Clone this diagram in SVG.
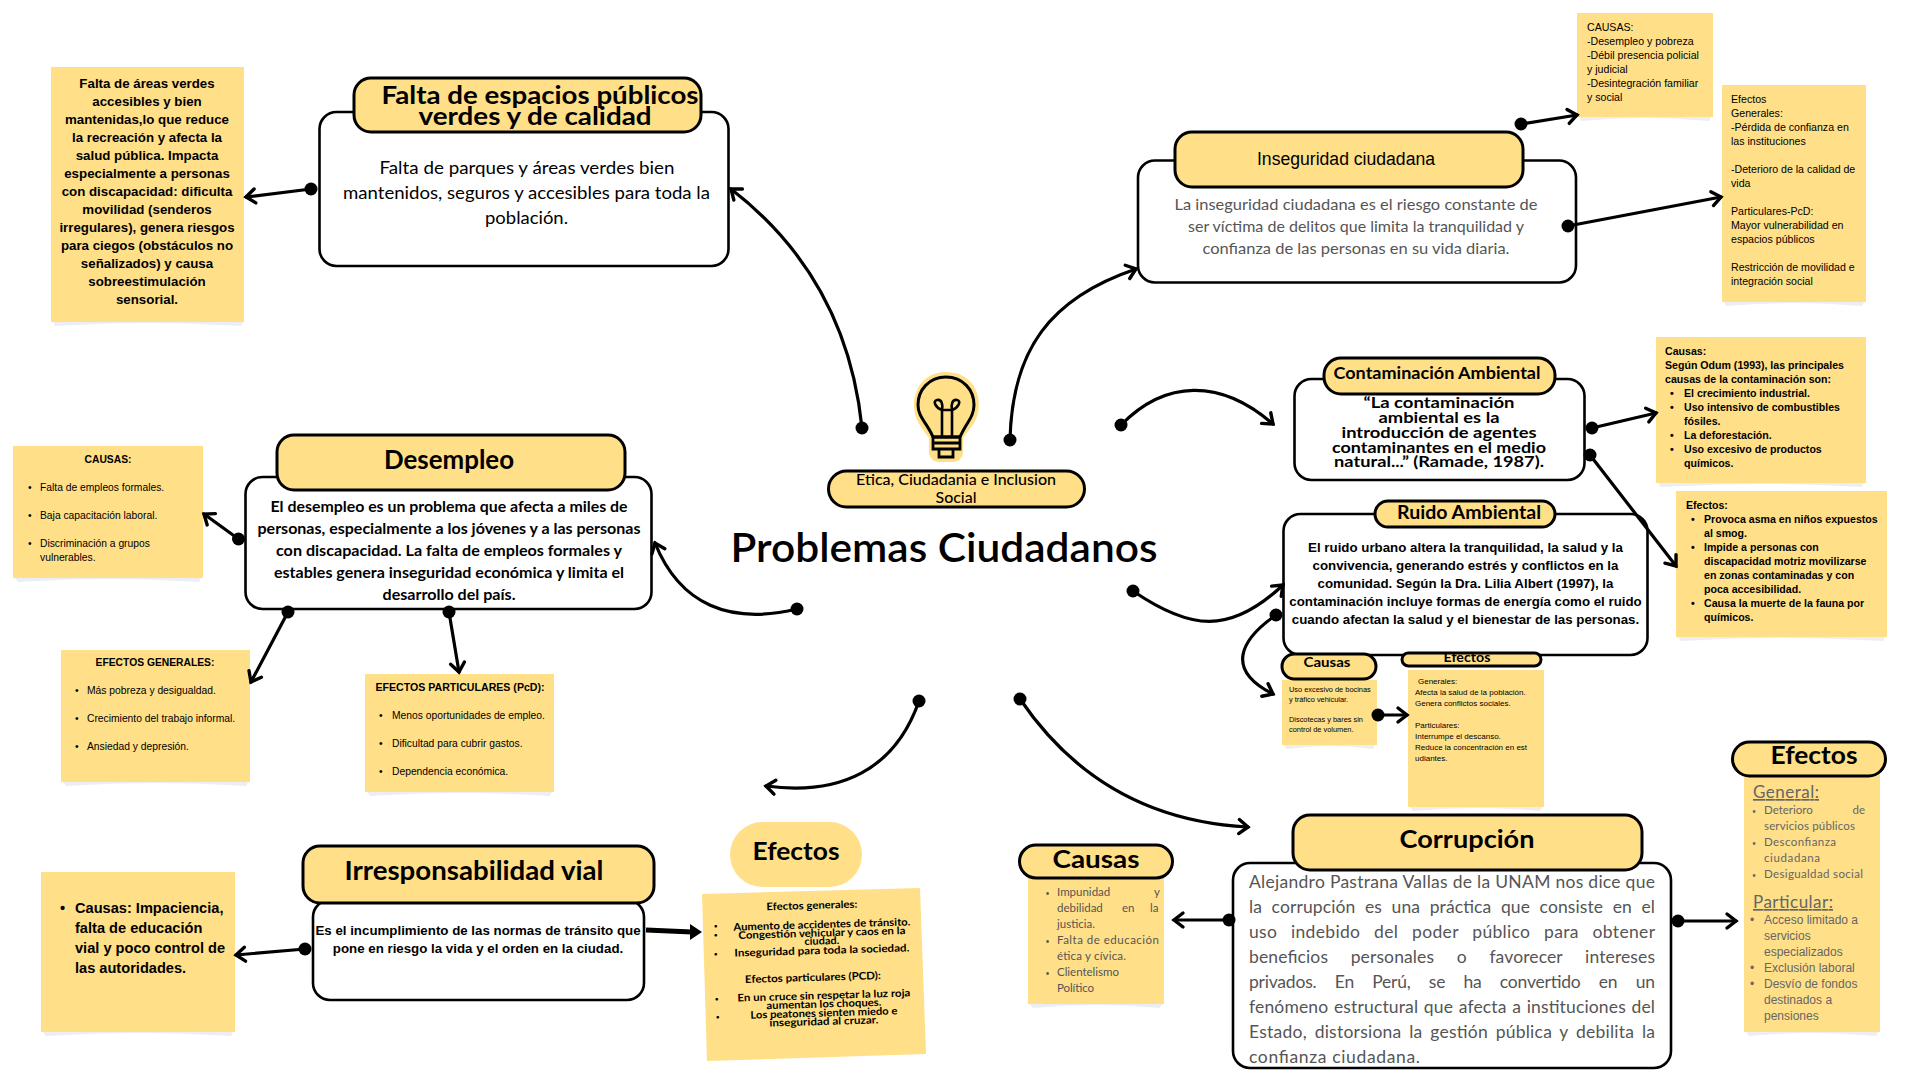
<svg xmlns="http://www.w3.org/2000/svg" width="1920" height="1080" viewBox="0 0 1920 1080">
<style>
.bg{fill:#fff}
.note{fill:#FFDF88}
.sh{fill:#ECEEF1}
.head{fill:#FFDF88;stroke:#000;stroke-width:3}
.box{fill:#fff;stroke:#000;stroke-width:2.6}
text{fill:#000;font-family:"Liberation Sans",Arial,sans-serif}
.q{font-family:Lato,"Noto Sans",sans-serif}
.qb{font-family:Lato,"Noto Sans",sans-serif;font-weight:700}
.m{text-anchor:middle}
.b{font-weight:700}
.g{fill:#555}
.g2{fill:#666}
.s11{font-size:10.6px}
.s10{font-size:10.3px}
.s8{font-size:8px}
.s7{font-size:7.4px}
.u{text-decoration:underline}
.c{fill:none;stroke:#000;stroke-width:3.2;stroke-linecap:round;marker-start:url(#dot);marker-end:url(#arr)}
</style>
<defs>
<marker id="arr" markerUnits="userSpaceOnUse" markerWidth="26" markerHeight="26" refX="13" refY="13" orient="auto"><path d="M4,6 L13,13 L4,20" fill="none" stroke="#000" stroke-width="3.4" stroke-linecap="round" stroke-linejoin="miter"/></marker>
<marker id="dot" markerUnits="userSpaceOnUse" markerWidth="16" markerHeight="16" refX="8" refY="8"><circle cx="8" cy="8" r="6.5" fill="#000"/></marker>
</defs>
<rect class="bg" width="1920" height="1080"/>

<g id="centro">
<path d="M946,372 C968,372 979,388 979,405 C979,420 970,428 963,438 L963,452 C963,458 958,462 953,462 L939,462 C934,462 929,458 929,452 L929,438 C922,428 914,420 914,405 C914,388 925,372 946,372Z" fill="#FFDF88"/>
<path d="M946,377 C963,377 974,390 974,405 C974,417 966,423 960,437 L933,437 C927,423 918,417 918,405 C918,390 929,377 946,377Z" fill="#FFDF88" stroke="#000" stroke-width="3"/>
<path d="M942,437 V410 H952 V437 M942,410 C936,408 932,401 937,400 C942,399 943,405 942,410 M952,410 C958,408 962,401 957,400 C952,399 951,405 952,410" fill="none" stroke="#000" stroke-width="2.6"/>
<path d="M933,437 H960 V449 H933Z M933,443 H960 M939,449 V457 H953 V449" fill="none" stroke="#000" stroke-width="2.8"/>
<rect class="head" x="828.5" y="471" width="256" height="36" rx="18"/>
<text class="q m" font-size="14.5" font-weight="500" x="956" y="484.5" textLength="200" lengthAdjust="spacingAndGlyphs">Etica, Ciudadania e Inclusion</text>
<text class="q m" font-size="14.5" font-weight="500" x="956" y="502.5" textLength="41" lengthAdjust="spacingAndGlyphs">Social</text>
<text class="q m" font-size="40" font-weight="600" x="944" y="561.5" textLength="427" lengthAdjust="spacingAndGlyphs">Problemas Ciudadanos</text>
</g>

<g id="falta">
<path class="sh" d="M53,322 L55,326 Q147,320 241,326 L243,322Z"/>
<rect class="note" x="51" y="67" width="193" height="255"/>
<text class="b m" font-size="13.3" x="147" y="88">Falta de áreas verdes</text>
<text class="b m" font-size="13.3" x="147" y="106">accesibles y bien</text>
<text class="b m" font-size="13.3" x="147" y="124">mantenidas,lo que reduce</text>
<text class="b m" font-size="13.3" x="147" y="142">la recreación y afecta la</text>
<text class="b m" font-size="13.3" x="147" y="160">salud pública. Impacta</text>
<text class="b m" font-size="13.3" x="147" y="178">especialmente a personas</text>
<text class="b m" font-size="13.3" x="147" y="196">con discapacidad: dificulta</text>
<text class="b m" font-size="13.3" x="147" y="214">movilidad (senderos</text>
<text class="b m" font-size="13.3" x="147" y="232">irregulares), genera riesgos</text>
<text class="b m" font-size="13.3" x="147" y="250">para ciegos (obstáculos no</text>
<text class="b m" font-size="13.3" x="147" y="268">señalizados) y causa</text>
<text class="b m" font-size="13.3" x="147" y="286">sobreestimulación</text>
<text class="b m" font-size="13.3" x="147" y="304">sensorial.</text>
<rect class="box" x="319.5" y="112" width="409" height="154" rx="17"/>
<rect class="head" x="354" y="78" width="347" height="54" rx="17"/>
<text class="qb m" font-size="24.5" x="540" y="104" textLength="317" lengthAdjust="spacingAndGlyphs">Falta de espacios públicos</text>
<text class="qb m" font-size="24.5" x="535" y="125" textLength="233" lengthAdjust="spacingAndGlyphs">verdes y de calidad</text>
<text class="q m" font-size="18" x="527" y="173.5" textLength="295" lengthAdjust="spacingAndGlyphs">Falta de parques y áreas verdes bien</text>
<text class="q m" font-size="18" x="526.5" y="198.5" textLength="367" lengthAdjust="spacingAndGlyphs">mantenidos, seguros y accesibles para toda la</text>
<text class="q m" font-size="18" x="526.5" y="223.5" textLength="83" lengthAdjust="spacingAndGlyphs">población.</text>
</g>

<g id="inseguridad">
<path class="sh" d="M1579,117 L1581,121 Q1645,115 1709,121 L1711,117Z"/>
<rect class="note" x="1577" y="13" width="136" height="104"/>
<text class="s11" x="1587" y="31">CAUSAS:</text>
<text class="s11" x="1587" y="45">-Desempleo y pobreza</text>
<text class="s11" x="1587" y="59">-Débil presencia policial</text>
<text class="s11" x="1587" y="73">y judicial</text>
<text class="s11" x="1587" y="87">-Desintegración familiar</text>
<text class="s11" x="1587" y="101">y social</text>
<path class="sh" d="M1724,302 L1726,306 Q1794,300 1862,306 L1864,302Z"/>
<rect class="note" x="1722" y="85" width="144" height="217"/>
<text class="s11" x="1731" y="103">Efectos</text>
<text class="s11" x="1731" y="117">Generales:</text>
<text class="s11" x="1731" y="131">-Pérdida de confianza en</text>
<text class="s11" x="1731" y="145">las instituciones</text>
<text class="s11" x="1731" y="173">-Deterioro de la calidad de</text>
<text class="s11" x="1731" y="187">vida</text>
<text class="s11" x="1731" y="215">Particulares-PcD:</text>
<text class="s11" x="1731" y="229">Mayor vulnerabilidad en</text>
<text class="s11" x="1731" y="243">espacios públicos</text>
<text class="s11" x="1731" y="271">Restricción de movilidad e</text>
<text class="s11" x="1731" y="285">integración social</text>
<rect class="box" x="1138" y="160.5" width="438" height="122" rx="17"/>
<rect class="head" x="1175" y="132" width="348" height="55" rx="17"/>
<text class="m" font-size="17.6" x="1346" y="165">Inseguridad ciudadana</text>
<text class="q m g" font-size="16" x="1356" y="209.5" textLength="363" lengthAdjust="spacingAndGlyphs">La inseguridad ciudadana es el riesgo constante de</text>
<text class="q m g" font-size="16" x="1356" y="231.5" textLength="336" lengthAdjust="spacingAndGlyphs">ser víctima de delitos que limita la tranquilidad y</text>
<text class="q m g" font-size="16" x="1356" y="253.5" textLength="307" lengthAdjust="spacingAndGlyphs">confianza de las personas en su vida diaria.</text>
</g>

<g id="desempleo">
<path class="sh" d="M15,578 L18,582 Q108,576 199,582 L201,578Z"/>
<rect class="note" x="13" y="446" width="190" height="132"/>
<text class="s10 b m" x="108" y="463">CAUSAS:</text>
<text class="s10" x="28" y="491">•</text><text class="s10" x="40" y="491">Falta de empleos formales.</text>
<text class="s10" x="28" y="519">•</text><text class="s10" x="40" y="519">Baja capacitación laboral.</text>
<text class="s10" x="28" y="547">•</text><text class="s10" x="40" y="547">Discriminación a grupos</text>
<text class="s10" x="40" y="561">vulnerables.</text>
<path class="sh" d="M63,782 L66,786 Q155,780 246,786 L248,782Z"/>
<rect class="note" x="61" y="650" width="189" height="132"/>
<text class="s10 b m" x="155" y="666">EFECTOS GENERALES:</text>
<text class="s10" x="75" y="694">•</text><text class="s10" x="87" y="694">Más pobreza y desigualdad.</text>
<text class="s10" x="75" y="722">•</text><text class="s10" x="87" y="722">Crecimiento del trabajo informal.</text>
<text class="s10" x="75" y="750">•</text><text class="s10" x="87" y="750">Ansiedad y depresión.</text>
<path class="sh" d="M367,792 L370,796 Q460,790 550,796 L552,792Z"/>
<rect class="note" x="365" y="674" width="189" height="118"/>
<text class="s11 b m" x="460" y="691">EFECTOS PARTICULARES (PcD):</text>
<text class="s10" x="379" y="719">•</text><text class="s10" x="392" y="719">Menos oportunidades de empleo.</text>
<text class="s10" x="379" y="747">•</text><text class="s10" x="392" y="747">Dificultad para cubrir gastos.</text>
<text class="s10" x="379" y="775">•</text><text class="s10" x="392" y="775">Dependencia económica.</text>
<rect class="box" x="245.5" y="477" width="406" height="132" rx="17"/>
<rect class="head" x="277" y="435" width="348" height="55" rx="17"/>
<text class="qb m" font-size="26" x="449" y="469" textLength="130" lengthAdjust="spacingAndGlyphs">Desempleo</text>
<text class="qb m" font-size="15" x="449" y="512" textLength="357" lengthAdjust="spacingAndGlyphs">El desempleo es un problema que afecta a miles de</text>
<text class="qb m" font-size="15" x="449" y="534" textLength="383" lengthAdjust="spacingAndGlyphs">personas, especialmente a los jóvenes y a las personas</text>
<text class="qb m" font-size="15" x="449" y="556" textLength="346" lengthAdjust="spacingAndGlyphs">con discapacidad. La falta de empleos formales y</text>
<text class="qb m" font-size="15" x="449" y="578" textLength="350" lengthAdjust="spacingAndGlyphs">estables genera inseguridad económica y limita el</text>
<text class="qb m" font-size="15" x="449" y="600" textLength="133" lengthAdjust="spacingAndGlyphs">desarrollo del país.</text>
</g>

<g id="contaminacion">
<path class="sh" d="M1658,483 L1661,487 Q1761,481 1862,487 L1864,483Z"/>
<rect class="note" x="1656" y="337" width="210" height="146"/>
<text class="s11 b" x="1665" y="355">Causas:</text>
<text class="s11 b" x="1665" y="369">Según Odum (1993), las principales</text>
<text class="s11 b" x="1665" y="383">causas de la contaminación son:</text>
<text class="s11 b" x="1670" y="397">•</text><text class="s11 b" x="1684" y="397">El crecimiento industrial.</text>
<text class="s11 b" x="1670" y="411">•</text><text class="s11 b" x="1684" y="411">Uso intensivo de combustibles</text>
<text class="s11 b" x="1684" y="425">fósiles.</text>
<text class="s11 b" x="1670" y="439">•</text><text class="s11 b" x="1684" y="439">La deforestación.</text>
<text class="s11 b" x="1670" y="453">•</text><text class="s11 b" x="1684" y="453">Uso excesivo de productos</text>
<text class="s11 b" x="1684" y="467">químicos.</text>
<path class="sh" d="M1678,637 L1681,641 Q1781,635 1883,641 L1885,637Z"/>
<rect class="note" x="1676" y="491" width="211" height="146"/>
<text class="s11 b" x="1686" y="509">Efectos:</text>
<text class="s11 b" x="1691" y="523">•</text><text class="s11 b" x="1704" y="523">Provoca asma en niños expuestos</text>
<text class="s11 b" x="1704" y="537">al smog.</text>
<text class="s11 b" x="1691" y="551">•</text><text class="s11 b" x="1704" y="551">Impide a personas con</text>
<text class="s11 b" x="1704" y="565">discapacidad motriz movilizarse</text>
<text class="s11 b" x="1704" y="579">en zonas contaminadas y con</text>
<text class="s11 b" x="1704" y="593">poca accesibilidad.</text>
<text class="s11 b" x="1691" y="607">•</text><text class="s11 b" x="1704" y="607">Causa la muerte de la fauna por</text>
<text class="s11 b" x="1704" y="621">químicos.</text>
<rect class="box" x="1294.5" y="379" width="290" height="101" rx="17"/>
<rect class="head" x="1324" y="358" width="231" height="36" rx="17"/>
<text class="qb m" font-size="17" x="1437" y="378.5" textLength="207" lengthAdjust="spacingAndGlyphs">Contaminación Ambiental</text>
<text class="qb m" font-size="16" x="1439" y="408" textLength="151" lengthAdjust="spacingAndGlyphs">“La contaminación</text>
<text class="qb m" font-size="16" x="1439" y="423" textLength="121" lengthAdjust="spacingAndGlyphs">ambiental es la</text>
<text class="qb m" font-size="16" x="1439" y="438" textLength="195" lengthAdjust="spacingAndGlyphs">introducción de agentes</text>
<text class="qb m" font-size="16" x="1439" y="452.5" textLength="214" lengthAdjust="spacingAndGlyphs">contaminantes en el medio</text>
<text class="qb m" font-size="16" x="1439" y="467" textLength="210" lengthAdjust="spacingAndGlyphs">natural...” (Ramade, 1987).</text>
</g>

<g id="ruido">
<rect class="box" x="1283.5" y="514" width="364" height="141" rx="17"/>
<rect class="head" x="1375" y="501" width="180" height="26" rx="13"/>
<text class="qb m" font-size="18" x="1469" y="518.5" textLength="144" lengthAdjust="spacingAndGlyphs">Ruido Ambiental</text>
<text class="b m" font-size="13.3" x="1465.5" y="552">El ruido urbano altera la tranquilidad, la salud y la</text>
<text class="b m" font-size="13.3" x="1465.5" y="570">convivencia, generando estrés y conflictos en la</text>
<text class="b m" font-size="13.3" x="1465.5" y="588">comunidad. Según la Dra. Lilia Albert (1997), la</text>
<text class="b m" font-size="13.3" x="1465.5" y="606">contaminación incluye formas de energía como el ruido</text>
<text class="b m" font-size="13.3" x="1465.5" y="624">cuando afectan la salud y el bienestar de las personas.</text>
<path class="sh" d="M1284,745 L1287,749 Q1330,743 1373,749 L1375,745Z"/>
<rect class="note" x="1282" y="680" width="95" height="65"/>
<rect class="head" x="1282" y="654" width="94" height="25" rx="12.5"/>
<text class="qb m" font-size="13.5" x="1327" y="667" textLength="47" lengthAdjust="spacingAndGlyphs">Causas</text>
<text class="s7" x="1289" y="692">Uso excesivo de bocinas</text>
<text class="s7" x="1289" y="702">y tráfico vehicular.</text>
<text class="s7" x="1289" y="722">Discotecas y bares sin</text>
<text class="s7" x="1289" y="732">control de volumen.</text>
<path class="sh" d="M1410,807 L1413,811 Q1476,805 1540,811 L1542,807Z"/>
<rect class="note" x="1408" y="670" width="136" height="137"/>
<rect class="head" x="1402" y="653" width="139" height="13" rx="6.5"/>
<text class="qb m" font-size="13.5" x="1467" y="662" textLength="47" lengthAdjust="spacingAndGlyphs">Efectos</text>
<text class="s8" x="1418" y="684">Generales:</text>
<text class="s8" x="1415" y="695">Afecta la salud de la población.</text>
<text class="s8" x="1415" y="706">Genera conflictos sociales.</text>
<text class="s8" x="1415" y="728">Particulares:</text>
<text class="s8" x="1415" y="739">Interrumpe el descanso.</text>
<text class="s8" x="1415" y="750">Reduce la concentración en est</text>
<text class="s8" x="1415" y="761">udiantes.</text>
</g>

<g id="corrupcion">
<rect class="box" x="1233" y="863" width="438" height="205" rx="17"/>
<rect class="head" x="1293" y="815" width="349" height="55" rx="17"/>
<text class="qb m" font-size="24.5" x="1467" y="848" textLength="135" lengthAdjust="spacingAndGlyphs">Corrupción</text>
<text class="q g" font-size="17.5" x="1249" y="887.5" textLength="406">Alejandro Pastrana Vallas de la UNAM nos dice que</text>
<text class="q g" font-size="17.5" x="1249" y="912.5" word-spacing="5" textLength="406">la corrupción es una práctica que consiste en el</text>
<text class="q g" font-size="17.5" x="1249" y="937.5" word-spacing="9" textLength="406">uso indebido del poder público para obtener</text>
<text class="q g" font-size="17.5" x="1249" y="962.5" word-spacing="18" textLength="406">beneficios personales o favorecer intereses</text>
<text class="q g" font-size="17.5" x="1249" y="987.5" word-spacing="14" textLength="406">privados. En Perú, se ha convertido en un</text>
<text class="q g" font-size="17.5" x="1249" y="1012.5" word-spacing="1" textLength="406">fenómeno estructural que afecta a instituciones del</text>
<text class="q g" font-size="17.5" x="1249" y="1037.5" word-spacing="3" textLength="406">Estado, distorsiona la gestión pública y debilita la</text>
<text class="q g" font-size="17.5" x="1249" y="1062.5" textLength="171">confianza ciudadana.</text>
</g>

<g id="corrupcion-causas">
<path class="sh" d="M1030,1004 L1033,1008 Q1096,1002 1160,1008 L1162,1004Z"/>
<rect class="note" x="1028" y="870" width="136" height="134"/>
<rect class="head" x="1019.5" y="845" width="153" height="33" rx="16.5"/>
<text class="qb m" font-size="24" x="1096" y="868" textLength="87" lengthAdjust="spacingAndGlyphs">Causas</text>
<text class="q g" x="1045.5" y="896" font-size="7">•</text><text class="q g" font-size="11.5" x="1057" y="896">Impunidad<tspan x="1154">y</tspan></text>
<text class="q g" font-size="11.5" x="1057" y="912">debilidad<tspan x="1122">en</tspan><tspan x="1150">la</tspan></text>
<text class="q g" font-size="11.5" x="1057" y="928" textLength="38">justicia.</text>
<text class="q g" x="1045.5" y="944" font-size="7">•</text><text class="q g" font-size="11.5" x="1057" y="944" textLength="102">Falta de educación</text>
<text class="q g" font-size="11.5" x="1057" y="960" textLength="69">ética y cívica.</text>
<text class="q g" x="1045.5" y="976" font-size="7">•</text><text class="q g" font-size="11.5" x="1057" y="976" textLength="62">Clientelismo</text>
<text class="q g" font-size="11.5" x="1057" y="992" textLength="37">Político</text>
</g>

<g id="corrupcion-efectos">
<path class="sh" d="M1746,1032 L1749,1036 Q1812,1030 1876,1036 L1878,1032Z"/>
<rect class="note" x="1744" y="765" width="136" height="267"/>
<rect class="head" x="1732.5" y="742" width="153" height="34" rx="17"/>
<text class="qb m" font-size="24" x="1814" y="764" textLength="87" lengthAdjust="spacingAndGlyphs">Efectos</text>
<text class="q g2 u" font-size="17" x="1753" y="798" textLength="66">General:</text>
<text class="q g2" x="1752" y="814" font-size="7">•</text><text class="q g2" font-size="11.5" x="1764" y="814">Deterioro<tspan x="1852.5">de</tspan></text>
<text class="q g2" font-size="11.5" x="1764" y="830" textLength="91">servicios públicos</text>
<text class="q g2" x="1752" y="846" font-size="7">•</text><text class="q g2" font-size="11.5" x="1764" y="846" textLength="72">Desconfianza</text>
<text class="q g2" font-size="11.5" x="1764" y="862" textLength="56">ciudadana</text>
<text class="q g2" x="1752" y="878" font-size="7">•</text><text class="q g2" font-size="11.5" x="1764" y="878" textLength="99">Desigualdad social</text>
<text class="q g2 u" font-size="17" x="1753" y="908" textLength="80">Particular:</text>
<text class="g2" x="1750" y="924" font-size="12">•</text><text class="g2" font-size="12" x="1764" y="924">Acceso limitado a</text>
<text class="g2" font-size="12" x="1764" y="940">servicios</text>
<text class="g2" font-size="12" x="1764" y="956">especializados</text>
<text class="g2" x="1750" y="972" font-size="12">•</text><text class="g2" font-size="12" x="1764" y="972">Exclusión laboral</text>
<text class="g2" x="1750" y="988" font-size="12">•</text><text class="g2" font-size="12" x="1764" y="988">Desvío de fondos</text>
<text class="g2" font-size="12" x="1764" y="1004">destinados a</text>
<text class="g2" font-size="12" x="1764" y="1020">pensiones</text>
</g>

<g id="irresponsabilidad">
<path class="sh" d="M43,1032 L46,1036 Q138,1030 231,1036 L233,1032Z"/>
<rect class="note" x="41" y="872" width="194" height="160"/>
<text class="b" font-size="14.6" x="60" y="913">•</text><text class="b" font-size="14.6" x="75" y="913">Causas: Impaciencia,</text>
<text class="b" font-size="14.6" x="75" y="933">falta de educación</text>
<text class="b" font-size="14.6" x="75" y="953">vial y poco control de</text>
<text class="b" font-size="14.6" x="75" y="973">las autoridades.</text>
<rect class="box" x="313" y="900" width="331" height="100" rx="17"/>
<rect class="head" x="303" y="846" width="351" height="57" rx="17"/>
<text class="qb m" font-size="26" x="474" y="880" textLength="259" lengthAdjust="spacingAndGlyphs">Irresponsabilidad vial</text>
<text class="b m" font-size="13.3" x="478" y="935">Es el incumplimiento de las normas de tránsito que</text>
<text class="b m" font-size="13.3" x="478" y="953">pone en riesgo la vida y el orden en la ciudad.</text>
</g>

<g id="irresponsabilidad-efectos">
<rect class="note" x="730" y="822" width="132" height="65" rx="32.5"/>
<text class="qb m" font-size="24" x="796" y="860" textLength="87" lengthAdjust="spacingAndGlyphs">Efectos</text>
<polygon class="note" points="702,894 920,888 926,1054 707,1061"/>
<text class="qb m" font-size="10.5" x="812" y="909" transform="rotate(-1.7 812 909)" textLength="91" lengthAdjust="spacingAndGlyphs">Efectos generales:</text>
<text class="qb" font-size="6" x="714" y="928">•</text>
<text class="qb m" font-size="10.5" x="822" y="928" transform="rotate(-1.7 822 928)" textLength="177" lengthAdjust="spacingAndGlyphs">Aumento de accidentes de tránsito.</text>
<text class="qb" font-size="6" x="714" y="937">•</text>
<text class="qb m" font-size="10.5" x="822" y="936.5" transform="rotate(-1.7 822 936)" textLength="167" lengthAdjust="spacingAndGlyphs">Congestión vehicular y caos en la</text>
<text class="qb m" font-size="10.5" x="822" y="944.5" transform="rotate(-1.7 822 945)" textLength="35" lengthAdjust="spacingAndGlyphs">ciudad.</text>
<text class="qb" font-size="6" x="714" y="956">•</text>
<text class="qb m" font-size="10.5" x="822" y="954" transform="rotate(-1.7 822 954)" textLength="175" lengthAdjust="spacingAndGlyphs">Inseguridad para toda la sociedad.</text>
<text class="qb m" font-size="10.5" x="813" y="981" transform="rotate(-1.7 813 981)" textLength="136" lengthAdjust="spacingAndGlyphs">Efectos particulares (PCD):</text>
<text class="qb" font-size="6" x="715" y="1001">•</text>
<text class="qb m" font-size="10.5" x="824" y="999" transform="rotate(-1.7 824 999)" textLength="173" lengthAdjust="spacingAndGlyphs">En un cruce sin respetar la luz roja</text>
<text class="qb m" font-size="10.5" x="824" y="1007.5" transform="rotate(-1.7 824 1007)" textLength="115" lengthAdjust="spacingAndGlyphs">aumentan los choques.</text>
<text class="qb" font-size="6" x="716" y="1019">•</text>
<text class="qb m" font-size="10.5" x="824" y="1016.5" transform="rotate(-1.7 824 1016)" textLength="147" lengthAdjust="spacingAndGlyphs">Los peatones sienten miedo e</text>
<text class="qb m" font-size="10.5" x="824" y="1025" transform="rotate(-1.7 824 1025)" textLength="109" lengthAdjust="spacingAndGlyphs">inseguridad al cruzar.</text>
</g>

<g id="connectors">
<path class="c" d="M862,428 C852,330 810,250 731,189"/>
<path class="c" d="M1010,440 C1012,350 1050,298 1136,269"/>
<path class="c" d="M797,609 C730,625 680,605 655,543"/>
<path class="c" d="M1121,425 C1165,380 1220,378 1273,424"/>
<path class="c" d="M1133,591 C1190,630 1230,635 1283,585"/>
<path class="c" d="M919,701 C895,770 840,796 766,786"/>
<path class="c" d="M1020,699 C1075,780 1150,822 1248,827"/>
<path class="c" d="M1276,615 C1240,640 1225,670 1273,694"/>
<path class="c" d="M311,189 L246,197"/>
<path class="c" d="M1521,124 L1577,115"/>
<path class="c" d="M1568,226 L1721,197"/>
<path class="c" d="M238.5,539 L204,514"/>
<path class="c" d="M288,612 L251,682"/>
<path class="c" d="M449,612 L459,672"/>
<path class="c" d="M1592,428 L1656,413"/>
<path class="c" d="M1590,455 L1676,566"/>
<path class="c" d="M1378,715 L1407,715"/>
<path class="c" d="M1229,920 L1174,920"/>
<path class="c" d="M1678,921 L1736,921"/>
<path class="c" d="M305,949 L236,955"/>
<path d="M646,930 L692,932" fill="none" stroke="#000" stroke-width="5"/>
<polygon points="690,924 702,932 690,940"/>
</g>
</svg>
